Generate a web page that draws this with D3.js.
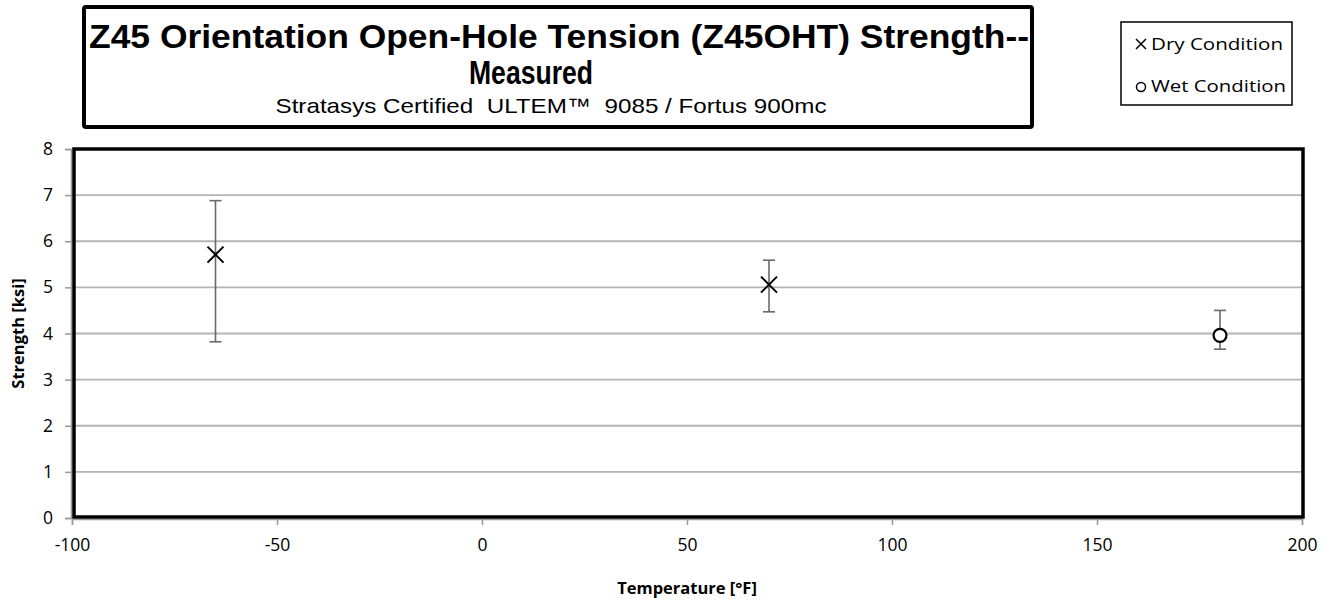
<!DOCTYPE html>
<html><head><meta charset="utf-8">
<script src="https://cdn.jsdelivr.net/npm/d3@7"></script>
<style>body{margin:0;background:#fff}svg{display:block}text{white-space:pre}</style>
</head><body>
<script>
const title1 = "Z45 Orientation Open-Hole Tension (Z45OHT) Strength--";
const title2 = "Measured";
const subtitle = "Stratasys Certified  ULTEM\u2122  9085 / Fortus 900mc";
const xTicks = [-100, -50, 0, 50, 100, 150, 200];
const yTicks = [0, 1, 2, 3, 4, 5, 6, 7, 8];
const dryTemps = [-65, 70];
const dryMeans = [5.71, 5.06];
const dryHigh = [6.88, 5.59];
const dryLow = [3.82, 4.47];
const wetTemps = [180];
const wetMeans = [3.96];
const wetHigh = [4.50];
const wetLow = [3.66];

const W = 1341, H = 604;
const svg = d3.select("body").append("svg").attr("width", W).attr("height", H);
const x = d3.scaleLinear().domain([-100, 200]).range([72, 1302]);
const y = d3.scaleLinear().domain([0, 8]).range([518, 149]);
const tickFont = "'Open Sans', sans-serif";
const fmt = d => String(d);

// gridlines
svg.append("g").selectAll("line").data(yTicks.slice(1)).join("line")
  .attr("x1", x(-100)).attr("x2", x(200)).attr("y1", d => y(d)).attr("y2", d => y(d))
  .attr("stroke", "#b4b4b4").attr("stroke-width", 1.8);

// axes
const yAxis = svg.append("g").attr("transform", `translate(${x(-100) - 1},0)`)
  .call(d3.axisLeft(y).tickValues(yTicks).tickSize(6).tickPadding(12).tickFormat(fmt));
const xAxis = svg.append("g").attr("transform", `translate(0,${y(0) + 1})`)
  .call(d3.axisBottom(x).tickValues(xTicks).tickSize(6).tickPadding(14).tickFormat(fmt));
[yAxis, xAxis].forEach(g => {
  g.select(".domain").attr("stroke", "#9a9a9a").attr("stroke-width", 1.5);
  g.selectAll(".tick line").attr("stroke", "#9a9a9a").attr("stroke-width", 1.5);
  g.selectAll("text").attr("font-family", tickFont).attr("font-size", 17.5).attr("fill", "#000");
});

// plot area border
svg.append("rect").attr("x", x(-100) + 2).attr("y", y(8)).attr("width", x(200) - x(-100) - 1).attr("height", y(0) - y(8) - 1)
  .attr("fill", "none").attr("stroke", "#000").attr("stroke-width", 3.5);

// error bars
function errBars(ts, hi, lo) {
  const g = svg.append("g").attr("stroke", "#6a6a6a").attr("stroke-width", 1.6);
  ts.forEach((t, i) => {
    g.append("line").attr("x1", x(t)).attr("x2", x(t)).attr("y1", y(hi[i])).attr("y2", y(lo[i]));
    [hi[i], lo[i]].forEach(v => g.append("line").attr("x1", x(t) - 6).attr("x2", x(t) + 6).attr("y1", y(v)).attr("y2", y(v)));
  });
}
errBars(dryTemps, dryHigh, dryLow);
errBars(wetTemps, wetHigh, wetLow);

// markers
svg.append("g").selectAll("path").data(dryTemps).join("path")
  .attr("d", "M-8,-8L8,8M-8,8L8,-8")
  .attr("transform", (d, i) => `translate(${x(d)},${y(dryMeans[i])})`)
  .attr("stroke", "#000").attr("stroke-width", 2).attr("fill", "none");
svg.append("g").selectAll("circle").data(wetTemps).join("circle")
  .attr("cx", d => x(d)).attr("cy", (d, i) => y(wetMeans[i])).attr("r", 6.5)
  .attr("fill", "#fff").attr("stroke", "#000").attr("stroke-width", 2.2);

// axis titles
svg.append("text").attr("x", x(50)).attr("y", 594).attr("text-anchor", "middle")
  .attr("font-family", tickFont).attr("font-weight", "bold").attr("font-size", 16.5).text("Temperature [\u00B0F]");
svg.append("text").attr("transform", `translate(24,${y(4)}) rotate(-90)`).attr("text-anchor", "middle")
  .attr("font-family", tickFont).attr("font-weight", "bold").attr("font-size", 16.5).text("Strength [ksi]");

// title box
svg.append("rect").attr("x", 84).attr("y", 7).attr("width", 948).attr("height", 120).attr("rx", 2)
  .attr("fill", "#fff").attr("stroke", "#000").attr("stroke-width", 4);
const tf = "'Liberation Sans', Arial, sans-serif";
svg.append("text").attr("x", 559).attr("y", 48).attr("text-anchor", "middle").attr("font-family", tf)
  .attr("font-weight", "bold").attr("font-size", 34).attr("textLength", 940).attr("lengthAdjust", "spacingAndGlyphs").text(title1);
svg.append("text").attr("x", 531).attr("y", 84).attr("text-anchor", "middle").attr("font-family", tf)
  .attr("font-weight", "bold").attr("font-size", 34).attr("textLength", 124).attr("lengthAdjust", "spacingAndGlyphs").text(title2);
svg.append("text").attr("x", 551).attr("y", 113).attr("text-anchor", "middle").attr("font-family", tf)
  .attr("font-size", 21).attr("textLength", 551).attr("lengthAdjust", "spacingAndGlyphs").text(subtitle);

// legend
svg.append("rect").attr("x", 1121).attr("y", 22).attr("width", 171).attr("height", 83)
  .attr("fill", "#fff").attr("stroke", "#000").attr("stroke-width", 1.5);
svg.append("path").attr("d", "M-5,-5L5,5M-5,5L5,-5").attr("transform", "translate(1141,44)")
  .attr("stroke", "#000").attr("stroke-width", 1.5).attr("fill", "none");
svg.append("circle").attr("cx", 1141).attr("cy", 87).attr("r", 4.5).attr("fill", "#fff").attr("stroke", "#000").attr("stroke-width", 1.5);
svg.append("text").attr("x", 1151).attr("y", 50).attr("font-family", tickFont).attr("font-size", 16)
  .attr("textLength", 132).attr("lengthAdjust", "spacingAndGlyphs").text("Dry Condition");
svg.append("text").attr("x", 1151).attr("y", 92).attr("font-family", tickFont).attr("font-size", 16)
  .attr("textLength", 135).attr("lengthAdjust", "spacingAndGlyphs").text("Wet Condition");
</script>
</body></html>
